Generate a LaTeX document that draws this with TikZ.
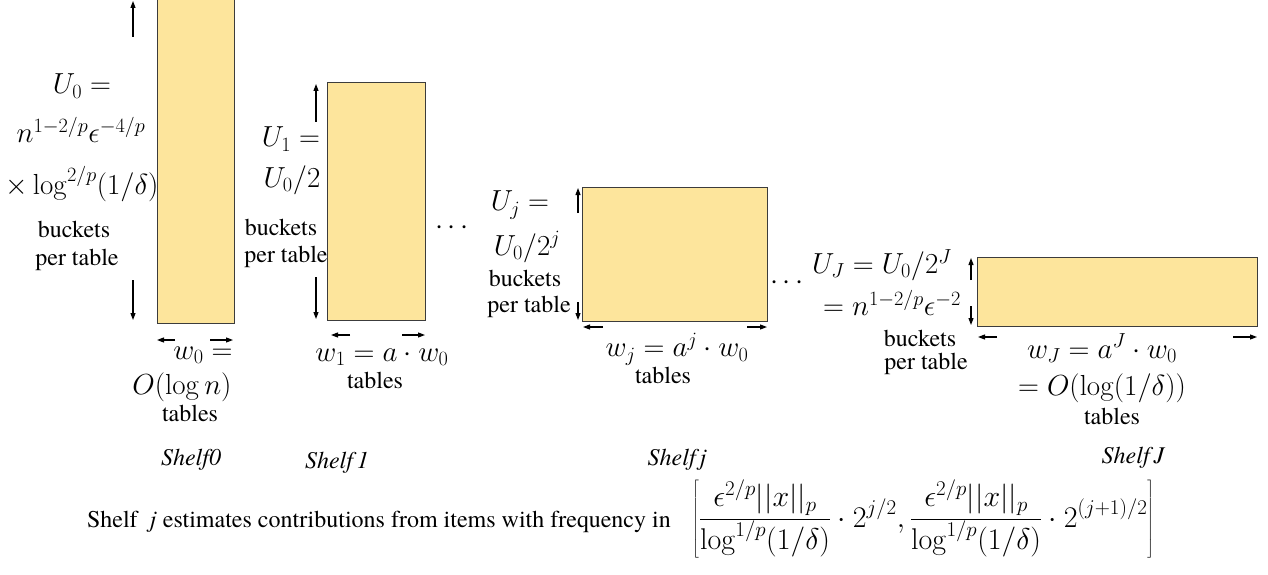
\RequirePackage{fix-cm}
\documentclass[tikz,border=0pt]{standalone}
\usepackage[no-math]{fontspec}
\newfontfamily\timesfont{texgyretermes}[Extension=.otf,UprightFont=*-regular,ItalicFont=*-italic,BoldFont=*-bold,BoldItalicFont=*-bolditalic]
\usetikzlibrary{arrows.meta}
\definecolor{shelffill}{RGB}{253,229,156}
\definecolor{shelfline}{RGB}{60,60,60}
\begin{document}
\begin{tikzpicture}[x=1pt,y=-1pt,
  shelfbox/.style={draw=shelfline, fill=shelffill, line width=1pt},
  mth/.style={inner sep=0pt, font=\fontsize{29}{34}\selectfont},
  bigmth/.style={inner sep=0pt, font=\fontsize{30}{36}\selectfont},
  txt/.style={inner sep=0pt, font=\timesfont\fontsize{24}{28}\selectfont},
  lbl/.style={inner sep=0pt, font=\timesfont\fontsize{24}{28}\selectfont\itshape},
  dimarrow/.style={-{Triangle[length=7pt,width=5pt]}, line width=1.1pt}]
\useasboundingbox (0,0) rectangle (1268,575);

% ---------- Shelf 0 ----------
\path[shelfbox] (157,-3) rectangle (234,323);
\coordinate (a0us) at (133,37);  \coordinate (a0ue) at (133,1);
\coordinate (a0ds) at (133,280); \coordinate (a0de) at (133,320);
\draw[dimarrow] (a0us) -- (a0ue);
\draw[dimarrow] (a0ds) -- (a0de);
\coordinate (h0ls) at (175,340); \coordinate (h0le) at (157,340);
\coordinate (h0rs) at (210,340); \coordinate (h0re) at (233,340);
\draw[dimarrow] (h0ls) -- (h0le);
\draw[dimarrow] (h0rs) -- (h0re);
\node[mth] (u0a) at (82,86) {$U_0 =$};
\node[mth] (u0b) at (81,130) {$n^{1-2/p}\epsilon^{-4/p}$};
\node[mth] (u0c) at (82,184) {$\times\log^{2/p}(1/\delta)$};
\node[txt] (b0a) at (74,229) {buckets};
\node[txt] (b0b) at (77,260) {per table};
\node[mth] (w0a) at (203,355) {$w_0 =$};
\node[mth] (w0b) at (182,387) {$O(\log n)$};
\node[txt] (t0) at (190,413) {tables};
\node[lbl] (s0) at (191,460) {Shelf0};

% ---------- Shelf 1 ----------
\path[shelfbox] (327,83) rectangle (425,320);
\coordinate (a1us) at (316,122); \coordinate (a1ue) at (316,84);
\coordinate (a1ds) at (316,277); \coordinate (a1de) at (316,319);
\draw[dimarrow] (a1us) -- (a1ue);
\draw[dimarrow] (a1ds) -- (a1de);
\coordinate (h1ls) at (350,335); \coordinate (h1le) at (331,335);
\coordinate (h1rs) at (402,335); \coordinate (h1re) at (425,335);
\draw[dimarrow] (h1ls) -- (h1le);
\draw[dimarrow] (h1rs) -- (h1re);
\node[mth] (u1a) at (291,139) {$U_1 =$};
\node[mth] (u1b) at (292,180) {$U_0/2$};
\node[txt] (b1a) at (281,227) {buckets};
\node[txt] (b1b) at (286,257) {per table};
\node[mth] (dots1) at (452,228) {$\cdots$};
\node[mth] (w1) at (382,357) {$w_1 = a\cdot w_0$};
\node[txt] (t1) at (375,380) {tables};
\node[lbl] (s1) at (337,463) {Shelf\,1};

% ---------- Shelf j ----------
\path[shelfbox] (582,187) rectangle (767,321);
\coordinate (ajus) at (578,213); \coordinate (ajue) at (578,188);
\coordinate (ajds) at (578,302); \coordinate (ajde) at (578,320);
\draw[dimarrow] (ajus) -- (ajue);
\draw[dimarrow] (ajds) -- (ajde);
\coordinate (hjls) at (603,327); \coordinate (hjle) at (583,327);
\coordinate (hjrs) at (747,327); \coordinate (hjre) at (767,327);
\draw[dimarrow] (hjls) -- (hjle);
\draw[dimarrow] (hjrs) -- (hjre);
\node[mth] (uja) at (520,205) {$U_j =$};
\node[mth] (ujb) at (527,247) {$U_0/2^j$};
\node[txt] (bja) at (525,278) {buckets};
\node[txt] (bjb) at (529,307) {per table};
\node[mth] (wj) at (677,349) {$w_j = a^j\cdot w_0$};
\node[txt] (tj) at (663,375) {tables};
\node[mth] (dots2) at (787,283) {$\cdots$};
\node[lbl] (sj) at (677,460) {Shelf\,\textit{j}};

% ---------- Shelf J ----------
\path[shelfbox] (977,257) rectangle (1257,326);
\coordinate (aJus) at (971,280); \coordinate (aJue) at (971,258);
\coordinate (aJds) at (971,306); \coordinate (aJde) at (971,325);
\draw[dimarrow] (aJus) -- (aJue);
\draw[dimarrow] (aJds) -- (aJde);
\coordinate (hJls) at (997,337); \coordinate (hJle) at (978,337);
\coordinate (hJrs) at (1233,337); \coordinate (hJre) at (1257,337);
\draw[dimarrow] (hJls) -- (hJle);
\draw[dimarrow] (hJrs) -- (hJre);
\node[mth] (uJa) at (882,265) {$U_J = U_0/2^J$};
\node[mth] (uJb) at (892,303) {$= n^{1-2/p}\epsilon^{-2}$};
\node[txt] (bJa) at (920,338) {buckets};
\node[txt] (bJb) at (926,364) {per table};
\node[mth] (wJa) at (1102,348) {$w_J = a^J\cdot w_0$};
\node[mth] (wJb) at (1102,388) {$= O(\log(1/\delta))$};
\node[txt] (tJ) at (1112,416) {tables};
\node[lbl] (sJ) at (1133,458) {Shelf\,\textit{J}};

% ---------- bottom line ----------
\node[txt, anchor=base east] (freqtext) at (671,527)
  {Shelf\ \ \textit{j} estimates contributions from items with frequency in};
\node[bigmth, anchor=base west] (freqrange) at (692,527)
  {$\displaystyle\left[\frac{\epsilon^{2/p}||x||_p}{\log^{1/p}(1/\delta)}\cdot 2^{j/2},\frac{\epsilon^{2/p}||x||_p}{\log^{1/p}(1/\delta)}\cdot 2^{(j+1)/2}\right]$};
\end{tikzpicture}
\end{document}
